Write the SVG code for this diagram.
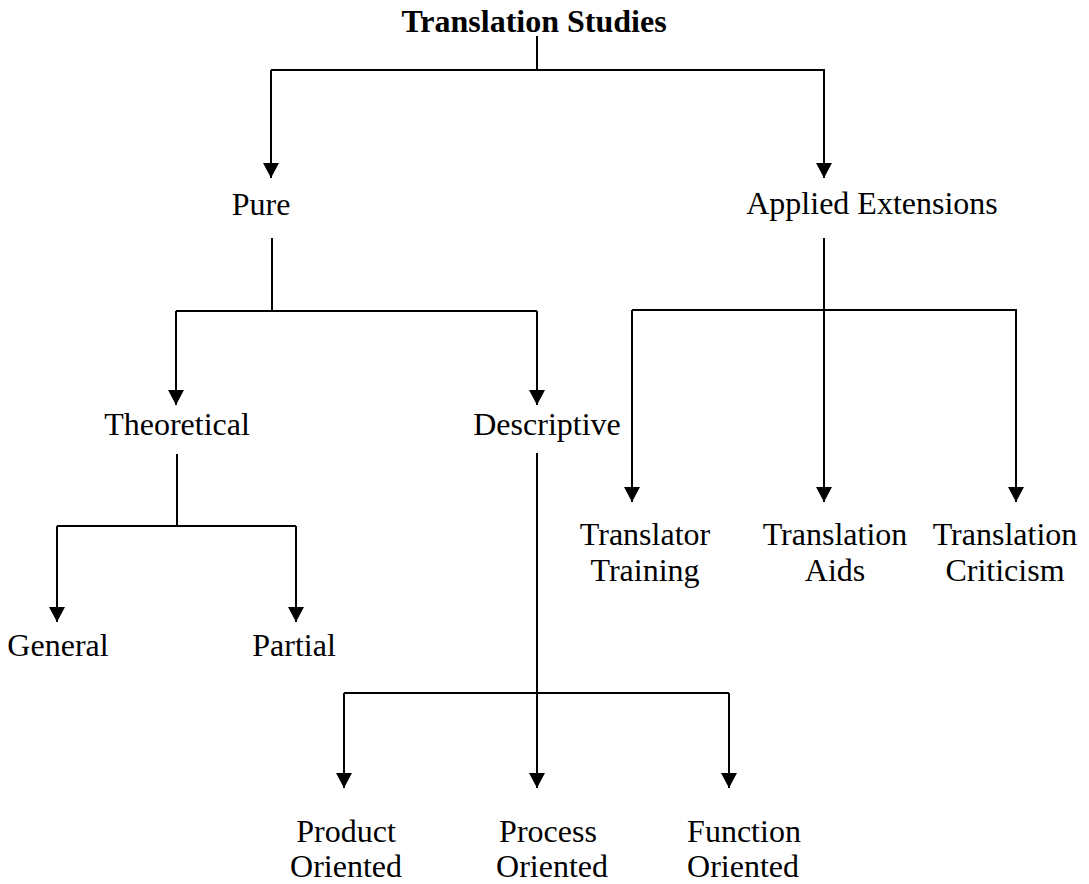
<svg xmlns="http://www.w3.org/2000/svg" width="1089" height="884" viewBox="0 0 1089 884">
<style>
text{font-family:"Liberation Serif","Times New Roman",serif;font-size:32px;fill:#000}
.t{font-weight:bold}
.c{stroke:#000;stroke-width:2;fill:none}
</style>
<defs>
<marker id="ah" markerUnits="userSpaceOnUse" markerWidth="16" markerHeight="16" viewBox="0 0 15 16" refX="15" refY="8" orient="auto">
<path d="M0,0 L15,8 L0,16 z" fill="#000"/>
</marker>
</defs>
<rect width="1089" height="884" fill="#fff"/>
<g id="connectors">
<path class="c" d="M537,36 V70"/>
<path class="c" d="M271,70 H825"/>
<path class="c" d="M271,70 V178" marker-end="url(#ah)"/>
<path class="c" d="M824,70 V178" marker-end="url(#ah)"/>
<path class="c" d="M272,238 V311"/>
<path class="c" d="M176,311 H537"/>
<path class="c" d="M176,311 V405" marker-end="url(#ah)"/>
<path class="c" d="M537,311 V405" marker-end="url(#ah)"/>
<path class="c" d="M824,238 V310"/>
<path class="c" d="M632,310 H1017"/>
<path class="c" d="M632,310 V502" marker-end="url(#ah)"/>
<path class="c" d="M824,310 V502" marker-end="url(#ah)"/>
<path class="c" d="M1016,310 V502" marker-end="url(#ah)"/>
<path class="c" d="M177,454 V526"/>
<path class="c" d="M57,526 H296"/>
<path class="c" d="M57,526 V622" marker-end="url(#ah)"/>
<path class="c" d="M296,526 V622" marker-end="url(#ah)"/>
<path class="c" d="M537,453 V788" marker-end="url(#ah)"/>
<path class="c" d="M344,693 H729"/>
<path class="c" d="M344,693 V788" marker-end="url(#ah)"/>
<path class="c" d="M729,693 V788" marker-end="url(#ah)"/>
</g>
<g id="n-root"><text class="t" x="534" y="32" text-anchor="middle">Translation Studies</text></g>
<g id="n-pure"><text x="261" y="215" text-anchor="middle">Pure</text></g>
<g id="n-applied"><text x="872" y="214" text-anchor="middle">Applied Extensions</text></g>
<g id="n-theoretical"><text x="177" y="435" text-anchor="middle">Theoretical</text></g>
<g id="n-descriptive"><text x="547" y="435" text-anchor="middle">Descriptive</text></g>
<g id="n-general"><text x="58" y="656" text-anchor="middle">General</text></g>
<g id="n-partial"><text x="294" y="656" text-anchor="middle">Partial</text></g>
<g id="n-trainer"><text x="645" y="545" text-anchor="middle">Translator</text><text x="645" y="581" text-anchor="middle">Training</text></g>
<g id="n-aids"><text x="835" y="545" text-anchor="middle">Translation</text><text x="835" y="581" text-anchor="middle">Aids</text></g>
<g id="n-criticism"><text x="1005" y="545" text-anchor="middle">Translation</text><text x="1005" y="581" text-anchor="middle">Criticism</text></g>
<g id="n-product"><text x="346" y="842" text-anchor="middle">Product</text><text x="346" y="877" text-anchor="middle">Oriented</text></g>
<g id="n-process"><text x="548" y="842" text-anchor="middle">Process</text><text x="552" y="877" text-anchor="middle">Oriented</text></g>
<g id="n-function"><text x="744" y="842" text-anchor="middle">Function</text><text x="743" y="877" text-anchor="middle">Oriented</text></g>
</svg>
